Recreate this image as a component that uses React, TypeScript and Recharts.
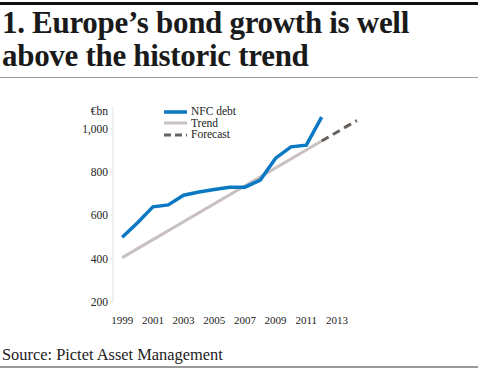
import { LineChart, Line, XAxis, YAxis } from "recharts";

const years = [1999, 2000, 2001, 2002, 2003, 2004, 2005, 2006, 2007, 2008, 2009, 2010, 2011, 2012];
const nfcDebt = [499, 566, 639, 648, 693, 708, 719, 730, 730, 763, 864, 916, 924, 1053];
const trendPoints: Record<number, number> = { 1999: 405, 2012: 943 };
const forecastPoints: [number, number][] = [[2012, 943], [2014.3, 1038]];
const xTicks = [1999, 2001, 2003, 2005, 2007, 2009, 2011, 2013];
const yTicks = [200, 400, 600, 800, 1000];

const data = [
  ...years.map((y, i) => ({
    year: y,
    nfc: nfcDebt[i],
    trend: trendPoints[y] ?? null,
    forecast: forecastPoints.find((p) => p[0] === y)?.[1] ?? null,
  })),
  ...forecastPoints.filter((p) => !years.includes(p[0])).map((p) => ({ year: p[0], nfc: null, trend: null, forecast: p[1] })),
];

const serif = "'Liberation Serif', 'DejaVu Serif', serif";

const legendItems = [
  { label: "NFC debt", color: "#0a78c2", width: 3.5, dash: undefined },
  { label: "Trend", color: "#c8c1bf", width: 3, dash: undefined },
  { label: "Forecast", color: "#68625f", width: 3, dash: "7 4" },
];

function ChartLegend() {
  return (
    <div style={{ fontSize: 11.5, color: "#222", lineHeight: "11.5px" }}>
      {legendItems.map((it) => (
        <div key={it.label} style={{ display: "flex", alignItems: "center", height: 11.5 }}>
          <svg width={26} height={10}>
            <line x1={1} y1={5} x2={24} y2={5} stroke={it.color} strokeWidth={it.width} strokeDasharray={it.dash} />
          </svg>
          <span style={{ marginLeft: 2 }}>{it.label}</span>
        </div>
      ))}
    </div>
  );
}

export default function App() {
  return (
    <div style={{ position: "absolute", left: 0, top: 0, width: 480, height: 370, background: "#fff", fontFamily: serif }}>
      <div style={{ position: "absolute", left: 0, top: 2, width: 478, height: 3, background: "#111" }} />
      <div style={{ position: "absolute", left: 2, top: 6, width: 476, fontWeight: 700, fontSize: 31, lineHeight: "33px", color: "#1a1a1a", letterSpacing: -0.3 }}>
        1. Europe’s bond growth is well<br />above the historic trend
      </div>
      <div style={{ position: "absolute", left: 0, top: 77, width: 478, height: 1, background: "#9a9a9a" }} />
      <div style={{ position: "absolute", left: 0, top: 0 }}>
        <LineChart width={480} height={370} data={data} margin={{ top: 107, right: 120, bottom: 48, left: 0 }}>
          <XAxis
            dataKey="year"
            type="number"
            domain={[1998.4, 2014.5]}
            ticks={xTicks}
            axisLine={false}
            tickLine={false}
            tickMargin={8}
            height={20}
            tick={{ fontSize: 11, fill: "#222", fontFamily: serif }}
          />
          <YAxis
            domain={[200, 1100]}
            ticks={yTicks}
            width={113}
            axisLine={{ stroke: "#e2e2e2" }}
            tickLine={{ stroke: "#e2e2e2" }}
            tickSize={3}
            tickMargin={2}
            tickFormatter={(v) => v.toLocaleString("en-US")}
            tick={{ fontSize: 11.5, fill: "#222", fontFamily: serif }}
          />
          <Line dataKey="trend" stroke="#c8c1bf" strokeWidth={3} dot={false} connectNulls isAnimationActive={false} />
          <Line dataKey="forecast" stroke="#68625f" strokeWidth={3} strokeDasharray="8 5" dot={false} connectNulls isAnimationActive={false} />
          <Line dataKey="nfc" stroke="#0a78c2" strokeWidth={3.5} dot={false} isAnimationActive={false} />
        </LineChart>
      </div>
      <div style={{ position: "absolute", left: 80, top: 105, width: 28, textAlign: "right", fontSize: 11.5, color: "#222" }}>€bn</div>
      <div style={{ position: "absolute", left: 163, top: 106 }}>
        <ChartLegend />
      </div>
      <div style={{ position: "absolute", left: 2, top: 345, fontSize: 16.4, color: "#222" }}>Source: Pictet Asset Management</div>
      <div style={{ position: "absolute", left: 0, top: 366, width: 478, height: 2, background: "#9a9a9a" }} />
    </div>
  );
}
